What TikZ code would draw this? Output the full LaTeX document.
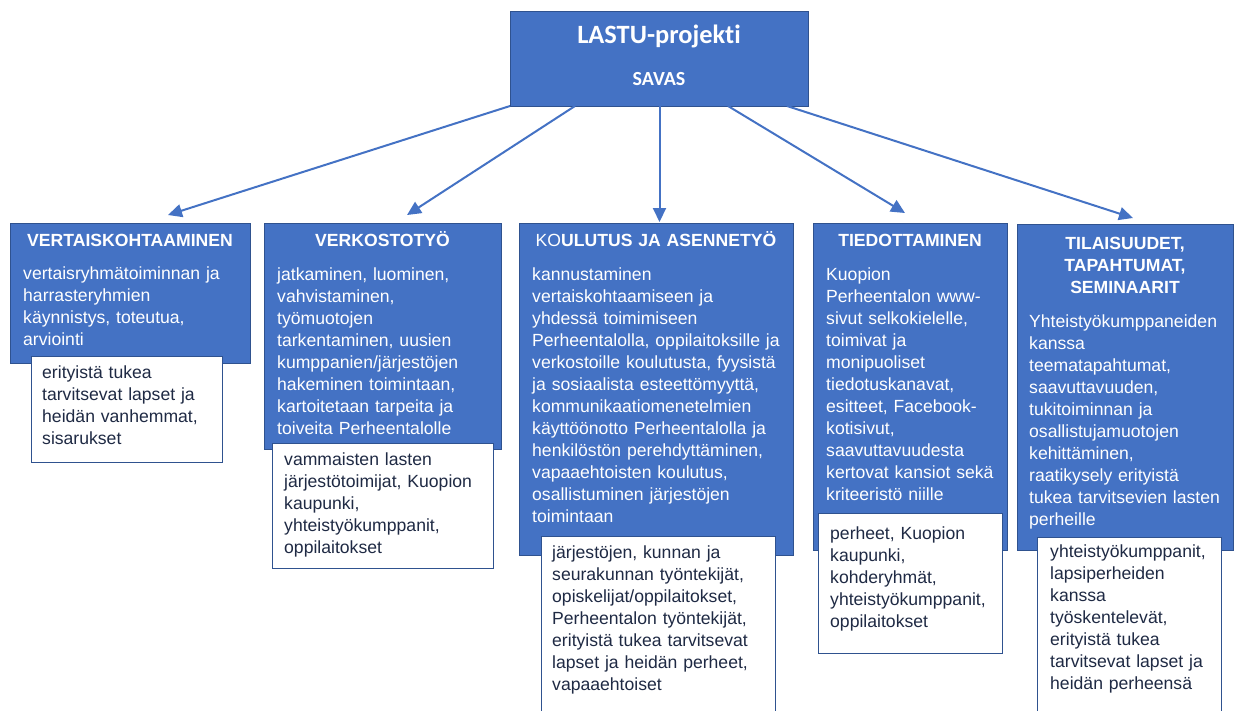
\documentclass[tikz,border=0pt]{standalone}
\usepackage{fontspec}
\setmainfont{Liberation Sans}
\newfontfamily\calibrifont[Ligatures=NoCommon]{Carlito}
\usetikzlibrary{arrows.meta,calc}
\definecolor{officeblue}{HTML}{4472C4}
\definecolor{edgeblue}{HTML}{2F528F}
\definecolor{navytext}{HTML}{1F2A44}
\begin{document}
\begin{tikzpicture}[x=1pt,y=-1pt,
  bluebox/.style={draw=edgeblue, fill=officeblue, line width=1pt, inner sep=0pt, outer sep=0pt, anchor=north west},
  whitebox/.style={draw=edgeblue, fill=white, line width=1pt, inner sep=0pt, outer sep=0pt, anchor=north west},
  headtext/.style={font=\bfseries\fontsize{17.6}{22}\selectfont, text=white, inner sep=0pt, anchor=base, align=center, text width=300pt},
  bodytext/.style={font=\fontsize{17.6}{22}\selectfont, text=white, inner sep=0pt, anchor=base west, align=left, text width=265pt},
  whitetext/.style={bodytext, text=navytext},
  arrowline/.style={draw=officeblue, line width=2pt, -{Triangle[length=14pt,width=13pt]}}
]
\useasboundingbox (0,0) rectangle (1234,710);
\clip (0,0) rectangle (1234,710);

% top box
\node[bluebox, minimum width=298pt, minimum height=95pt] (top) at (510,11) {};
\node[font=\calibrifont\bfseries\fontsize{26.4}{30}\selectfont, text=white, inner sep=0pt, anchor=base] (toptitle) at (659,43) {LASTU-projekti};
\node[font=\calibrifont\bfseries\fontsize{20}{24}\selectfont, text=white, inner sep=0pt, anchor=base] (topsub) at (659,85) {SAVAS};

% column 1
\node[bluebox, minimum width=240pt, minimum height=140pt] (b1) at (10,223) {};
\node[headtext] (h1) at (130,246) {VERTAISKOHTAAMINEN};
\node[bodytext] (t1) at (23,279) {vertaisryhmätoiminnan ja\\harrasteryhmien\\käynnistys, toteutua,\\arviointi};
\node[whitebox, minimum width=191pt, minimum height=106pt] (w1) at (31,356) {};
\node[whitetext] (u1) at (42,378) {erityistä tukea\\tarvitsevat lapset ja\\heidän vanhemmat,\\sisarukset};

% column 2
\node[bluebox, minimum width=237pt, minimum height=226pt] (b2) at (264,223) {};
\node[headtext] (h2) at (382.5,246) {VERKOSTOTYÖ};
\node[bodytext] (t2) at (277,280) {jatkaminen, luominen,\\vahvistaminen,\\työmuotojen\\tarkentaminen, uusien\\kumppanien/järjestöjen\\hakeminen toimintaan,\\kartoitetaan tarpeita ja\\toiveita Perheentalolle};
\node[whitebox, minimum width=221pt, minimum height=125pt] (w2) at (272,443) {};
\node[whitetext] (u2) at (284,465) {vammaisten lasten\\järjestötoimijat, Kuopion\\kaupunki,\\yhteistyökumppanit,\\oppilaitokset};

% column 3
\node[bluebox, minimum width=274pt, minimum height=332pt] (b3) at (519,223) {};
\node[headtext] (h3) at (656,246) {{\mdseries KO}ULUTUS JA ASENNETYÖ};
\node[bodytext] (t3) at (532,280) {kannustaminen\\vertaiskohtaamiseen ja\\yhdessä toimimiseen\\Perheentalolla, oppilaitoksille ja\\verkostoille koulutusta, fyysistä\\ja sosiaalista esteettömyyttä,\\kommunikaatiomenetelmien\\käyttöönotto Perheentalolla ja\\henkilöstön perehdyttäminen,\\vapaaehtoisten koulutus,\\osallistuminen järjestöjen\\toimintaan};
\node[whitebox, minimum width=234pt, minimum height=180pt] (w3) at (541,536) {};
\node[whitetext] (u3) at (552,558) {järjestöjen, kunnan ja\\seurakunnan työntekijät,\\opiskelijat/oppilaitokset,\\Perheentalon työntekijät,\\erityistä tukea tarvitsevat\\lapset ja heidän perheet,\\vapaaehtoiset};

% column 4
\node[bluebox, minimum width=194pt, minimum height=327pt] (b4) at (813,223) {};
\node[headtext] (h4) at (910,246) {TIEDOTTAMINEN};
\node[bodytext] (t4) at (826,280) {Kuopion\\Perheentalon www-\\sivut selkokielelle,\\toimivat ja\\monipuoliset\\tiedotuskanavat,\\esitteet, Facebook-\\kotisivut,\\saavuttavuudesta\\kertovat kansiot sekä\\kriteeristö niille};
\node[whitebox, minimum width=184pt, minimum height=140pt] (w4) at (818,513) {};
\node[whitetext] (u4) at (830,539) {perheet, Kuopion\\kaupunki,\\kohderyhmät,\\yhteistyökumppanit,\\oppilaitokset};

% column 5
\node[bluebox, minimum width=216pt, minimum height=326pt] (b5) at (1017,224) {};
\node[headtext] (h5) at (1125,249) {TILAISUUDET,\\TAPAHTUMAT,\\SEMINAARIT};
\node[bodytext] (t5) at (1029,327) {Yhteistyökumppaneiden\\kanssa\\teematapahtumat,\\saavuttavuuden,\\tukitoiminnan ja\\osallistujamuotojen\\kehittäminen,\\raatikysely erityistä\\tukea tarvitsevien lasten\\perheille};
\node[whitebox, minimum width=184pt, minimum height=180pt] (w5) at (1037,537) {};
\node[whitetext] (u5) at (1050,557) {yhteistyökumppanit,\\lapsiperheiden\\kanssa\\työskentelevät,\\erityistä tukea\\tarvitsevat lapset ja\\heidän perheensä};

% arrow tips
\coordinate (e1) at (168,215);
\coordinate (e2) at (407,215);
\coordinate (e3) at (659.5,222);
\coordinate (e4) at (905,213);
\coordinate (e5) at (1133,218);

\draw[arrowline] (top.south west) -- (e1);
\draw[arrowline] ($(top.south west)+(65,0)$) -- (e2);
\draw[arrowline] ($(top.south west)+(149.5,0)$) -- (e3);
\draw[arrowline] ($(top.south west)+(218,0)$) -- (e4);
\draw[arrowline] ($(top.south west)+(277,0)$) -- (e5);
\end{tikzpicture}
\end{document}
